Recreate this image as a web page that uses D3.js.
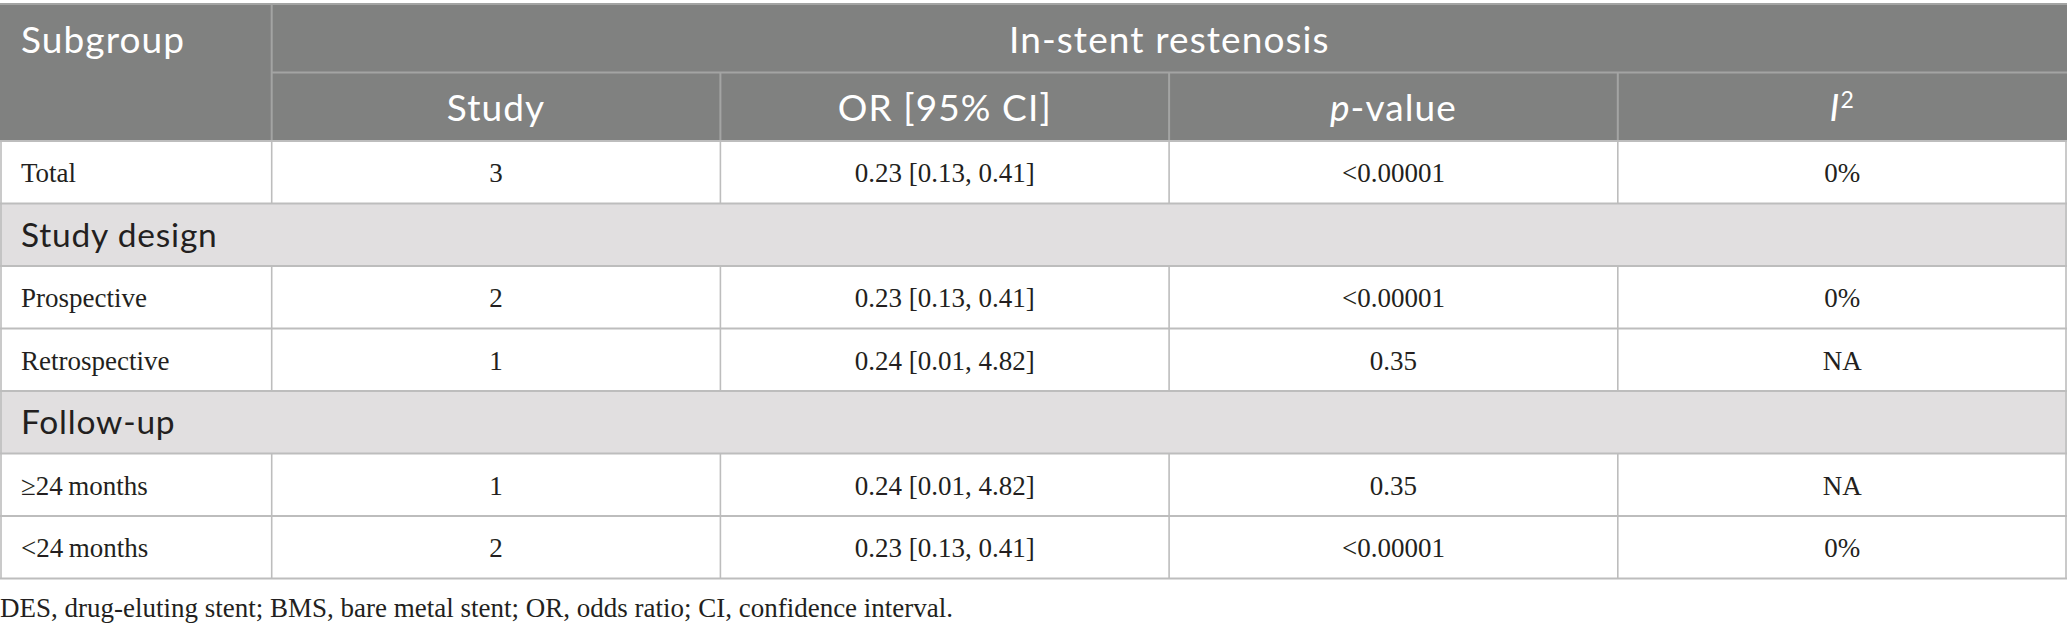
<!DOCTYPE html>
<html lang="en">
<head>
    <meta charset="UTF-8">
    <title>In-stent restenosis subgroup table</title>
    <style>
        body {
            margin: 0;
            padding: 0;
            background-color: #ffffff;
        }

        #table-chart {
            width: 2067px;
            height: 631px;
            display: block;
        }

        .head {
            font-family: Lato, "Open Sans", sans-serif;
            fill: #ffffff;
            font-size: 37px;
            font-weight: 400;
            letter-spacing: 1.1px;
        }

        .section {
            font-family: Lato, "Open Sans", sans-serif;
            fill: #231f20;
            font-size: 33.5px;
            letter-spacing: 0.8px;
        }

        .cell {
            font-family: "Liberation Serif", "DejaVu Serif", serif;
            fill: #231f20;
            font-size: 27px;
        }
    </style>
</head>
<body>

<div id="table-chart"></div>

<script src="https://d3js.org/d3.v7.min.js"></script>
<script>
    // Table values
    const groupTitle = "In-stent restenosis";
    const columns = ["Study", "OR [95% CI]", "p-value", "I2"];
    const subgroups = ["Total", "Study design", "Prospective", "Retrospective", "Follow-up", "\u226524\u2009months", "<24\u2009months"];
    const isSection = [false, true, false, false, true, false, false];
    const studyCounts = [3, null, 2, 1, null, 1, 2];
    const orValues = [0.23, null, 0.23, 0.24, null, 0.24, 0.23];
    const ciLow = [0.13, null, 0.13, 0.01, null, 0.01, 0.13];
    const ciHigh = [0.41, null, 0.41, 4.82, null, 4.82, 0.41];
    const pValues = ["<0.00001", null, "<0.00001", "0.35", null, "0.35", "<0.00001"];
    const i2Values = ["0%", null, "0%", "NA", null, "NA", "0%"];
    const footnote = "DES, drug-eluting stent; BMS, bare metal stent; OR, odds ratio; CI, confidence interval.";

    const width = 2067,
          height = 631;

    const svg = d3.select("#table-chart").append("svg")
        .attr("width", width)
        .attr("height", height);

    // Layout scales
    const firstColWidth = 271.7;
    const xCol = d3.scaleBand().domain(columns).range([firstColWidth, width - 0.5]);
    const yHead = d3.scaleBand().domain([0, 1]).range([4, 141]);
    const yRow = d3.scaleBand().domain(d3.range(subgroups.length)).range([141, 578.5]);

    const fmt = d3.format(".2f");
    const cellText = i => [
        studyCounts[i],
        `${fmt(orValues[i])} [${fmt(ciLow[i])}, ${fmt(ciHigh[i])}]`,
        pValues[i],
        i2Values[i]
    ];

    const headerLine = "#a3a4a3",
          bodyLine = "#bdbdbd";

    // Header background
    svg.append("rect")
        .attr("x", 0)
        .attr("y", yHead(0))
        .attr("width", width)
        .attr("height", yHead.bandwidth() * 2)
        .attr("fill", "#808180");

    // Body row backgrounds
    svg.append("g")
        .selectAll("rect")
        .data(subgroups)
        .enter().append("rect")
        .attr("x", 0)
        .attr("y", (d, i) => yRow(i))
        .attr("width", width)
        .attr("height", yRow.bandwidth())
        .attr("fill", (d, i) => isSection[i] ? "#e1dfe0" : "#ffffff");

    // Header grid lines
    const hg = svg.append("g").attr("stroke", headerLine).attr("stroke-width", 2);
    hg.append("line")
        .attr("x1", 0).attr("x2", width)
        .attr("y1", yHead(0)).attr("y2", yHead(0));
    hg.append("line")
        .attr("x1", firstColWidth).attr("x2", width)
        .attr("y1", yHead(1)).attr("y2", yHead(1));
    hg.append("line")
        .attr("x1", firstColWidth).attr("x2", firstColWidth)
        .attr("y1", yHead(0)).attr("y2", yHead(1) + yHead.bandwidth());
    hg.selectAll("line.col")
        .data(columns.slice(1))
        .enter().append("line")
        .attr("class", "col")
        .attr("x1", d => xCol(d)).attr("x2", d => xCol(d))
        .attr("y1", yHead(1)).attr("y2", yHead(1) + yHead.bandwidth());

    // Body grid lines
    const bg = svg.append("g").attr("stroke", bodyLine);
    bg.selectAll("line.h")
        .data(d3.range(subgroups.length + 1))
        .enter().append("line")
        .attr("class", "h")
        .attr("stroke-width", 2)
        .attr("x1", 0).attr("x2", width)
        .attr("y1", i => i === subgroups.length ? yRow.range()[1] : yRow(i))
        .attr("y2", i => i === subgroups.length ? yRow.range()[1] : yRow(i));

    const vx = [1, firstColWidth].concat(columns.slice(1).map(c => xCol(c)), [width - 1]);
    subgroups.forEach((s, i) => {
        // section rows only keep the outer edges
        const xs = isSection[i] ? [1, width - 1] : vx;
        bg.selectAll(null)
            .data(xs)
            .enter().append("line")
            .attr("stroke-width", 1.6)
            .attr("x1", d => d).attr("x2", d => d)
            .attr("y1", yRow(i)).attr("y2", yRow(i) + yRow.bandwidth());
    });

    // Header text
    const headBase = r => yHead(r) + yHead.bandwidth() / 2 + 14.5;
    svg.append("text")
        .attr("class", "head")
        .attr("x", 21)
        .attr("y", headBase(0))
        .text("Subgroup");
    svg.append("text")
        .attr("class", "head")
        .attr("x", (firstColWidth + width) / 2)
        .attr("y", headBase(0))
        .attr("text-anchor", "middle")
        .text(groupTitle);

    const colHead = svg.append("g")
        .selectAll("text")
        .data(columns)
        .enter().append("text")
        .attr("class", "head")
        .attr("x", d => xCol(d) + xCol.bandwidth() / 2)
        .attr("y", headBase(1))
        .attr("text-anchor", "middle");
    colHead.each(function (d) {
        const t = d3.select(this);
        if (d === "p-value") {
            t.append("tspan").attr("font-style", "italic").text("p");
            t.append("tspan").text("-value");
        } else if (d === "I2") {
            t.append("tspan").attr("font-style", "italic").text("I");
            t.append("tspan").attr("font-size", "23px").attr("dy", -13).text("2");
        } else {
            t.text(d);
        }
    });

    // Body text
    subgroups.forEach((s, i) => {
        const mid = yRow(i) + yRow.bandwidth() / 2;
        if (isSection[i]) {
            svg.append("text")
                .attr("class", "section")
                .attr("x", 21)
                .attr("y", mid + 12)
                .text(s);
            return;
        }
        svg.append("text")
            .attr("class", "cell")
            .attr("x", 21)
            .attr("y", mid + 10)
            .text(s);
        svg.append("g")
            .selectAll("text")
            .data(cellText(i))
            .enter().append("text")
            .attr("class", "cell")
            .attr("x", (d, j) => xCol(columns[j]) + xCol.bandwidth() / 2)
            .attr("y", mid + 10)
            .attr("text-anchor", "middle")
            .text(d => d);
    });

    // Footnote
    svg.append("text")
        .attr("class", "cell")
        .attr("x", 0)
        .attr("y", 617)
        .text(footnote);
</script>

</body>
</html>
